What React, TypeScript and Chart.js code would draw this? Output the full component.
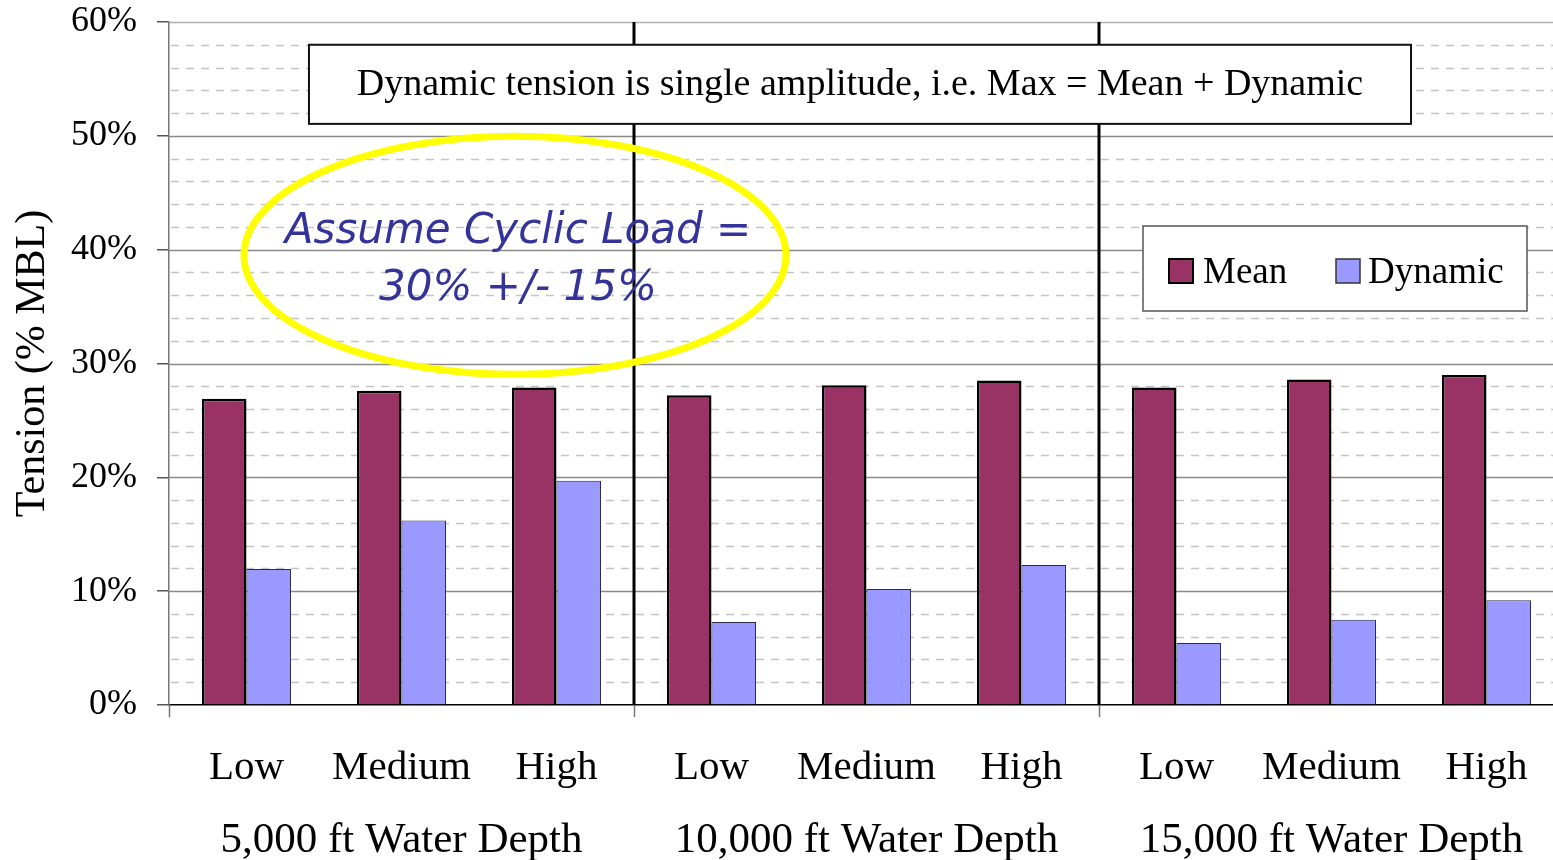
import React, { useEffect, useRef } from "react";
import { Chart, registerables } from "chart.js";

Chart.register(...registerables);

const categories = ["Low", "Medium", "High", "Low", "Medium", "High", "Low", "Medium", "High"];
const groupLabels = ["5,000 ft Water Depth", "10,000 ft Water Depth", "15,000 ft Water Depth"];
const meanValues = [26.9, 27.6, 27.9, 27.2, 28.1, 28.5, 27.9, 28.6, 29.0];
const dynamicValues = [11.95, 16.2, 19.7, 7.3, 10.2, 12.3, 5.45, 7.5, 9.2];
const seriesNames = ["Mean", "Dynamic"];
const yMajorTicks = [0, 10, 20, 30, 40, 50, 60];
const yMinorTicks = [2, 4, 6, 8, 12, 14, 16, 18, 22, 24, 26, 28, 32, 34, 36, 38, 42, 44, 46, 48, 52, 54, 56, 58];
const noteText = "Dynamic tension is single amplitude, i.e. Max = Mean + Dynamic";
const calloutLines = ["Assume Cyclic Load =", "30% +/- 15%"];

const MEAN_COLOR = "#993366";
const DYN_COLOR = "#9999FF";
const SERIF = "'Liberation Serif', 'Times New Roman', serif";

const decorPlugin = {
  id: "decor",
  beforeDatasetsDraw(chart: any) {
    const { ctx, chartArea } = chart;
    const y = chart.scales.y;
    ctx.save();
    ctx.strokeStyle = "#c4c4c4";
    ctx.lineWidth = 1.5;
    ctx.setLineDash([8, 7]);
    for (const v of yMinorTicks) {
      const py = Math.round(y.getPixelForValue(v)) + 0.5;
      ctx.beginPath();
      ctx.moveTo(chartArea.left + 2, py);
      ctx.lineTo(chartArea.right, py);
      ctx.stroke();
    }
    ctx.setLineDash([]);
    for (const v of yMajorTicks) {
      if (v === 0) continue;
      const py = Math.round(y.getPixelForValue(v)) + 0.5;
      ctx.strokeStyle = v === 60 ? "#b0b0b0" : "#8a8a8a";
      ctx.lineWidth = 1.5;
      ctx.beginPath();
      ctx.moveTo(chartArea.left, py);
      ctx.lineTo(chartArea.right, py);
      ctx.stroke();
    }
    ctx.restore();
  },
  afterDatasetsDraw(chart: any) {
    const { ctx, chartArea } = chart;
    const x = chart.scales.x;
    const y = chart.scales.y;
    ctx.save();
    const bounds: number[] = [];
    for (let g = 0; g <= groupLabels.length; g++) {
      const idx = g * 3;
      let px;
      if (idx === 0) px = chartArea.left;
      else if (idx >= categories.length) px = chartArea.right;
      else px = (x.getPixelForValue(idx - 1) + x.getPixelForValue(idx)) / 2;
      bounds.push(px);
    }
    ctx.strokeStyle = "#777";
    ctx.lineWidth = 1.5;
    for (let g = 0; g < groupLabels.length; g++) {
      const px = Math.round(bounds[g]) + 0.5;
      ctx.beginPath();
      ctx.moveTo(px, chartArea.bottom);
      ctx.lineTo(px, chartArea.bottom + 12);
      ctx.stroke();
    }
    ctx.strokeStyle = "#000";
    ctx.lineWidth = 3;
    for (let g = 1; g < groupLabels.length; g++) {
      const px = Math.round(bounds[g]);
      ctx.beginPath();
      ctx.moveTo(px, chartArea.top);
      ctx.lineTo(px, chartArea.bottom);
      ctx.stroke();
    }
    ctx.fillStyle = "#000";
    ctx.font = `43px ${SERIF}`;
    ctx.textAlign = "center";
    ctx.textBaseline = "alphabetic";
    for (let g = 0; g < groupLabels.length; g++) {
      const cx = x.getPixelForValue(g * 3 + 1);
      ctx.fillText(groupLabels[g], cx, chartArea.bottom + 147);
    }

    // note box
    const bx1 = x.getPixelForValue(0.403);
    const bx2 = x.getPixelForValue(7.513);
    const by1 = y.getPixelForValue(58);
    const by2 = y.getPixelForValue(51.05);
    ctx.fillStyle = "#fff";
    ctx.fillRect(bx1, by1, bx2 - bx1, by2 - by1);
    ctx.strokeStyle = "#111";
    ctx.lineWidth = 2;
    ctx.strokeRect(bx1, by1, bx2 - bx1, by2 - by1);
    ctx.fillStyle = "#000";
    ctx.font = `38px ${SERIF}`;
    ctx.textBaseline = "middle";
    ctx.fillText(noteText, (bx1 + bx2) / 2, (by1 + by2) / 2 + 1);

    // legend box
    const lx1 = 1143, ly1 = 226, lx2 = 1527, ly2 = 311;
    ctx.fillStyle = "#fff";
    ctx.fillRect(lx1, ly1, lx2 - lx1, ly2 - ly1);
    ctx.strokeStyle = "#555";
    ctx.lineWidth = 1.5;
    ctx.strokeRect(lx1, ly1, lx2 - lx1, ly2 - ly1);
    const ds = chart.data.datasets;
    const items = [
      { sx: 1169, tx: 1203 },
      { sx: 1336, tx: 1368 },
    ];
    ctx.font = `37px ${SERIF}`;
    ctx.textAlign = "left";
    ctx.textBaseline = "alphabetic";
    items.forEach((it, i) => {
      ctx.fillStyle = ds[i].backgroundColor;
      ctx.fillRect(it.sx, 259, 24, 24);
      ctx.strokeStyle = i === 0 ? "#000" : "#333";
      ctx.lineWidth = i === 0 ? 2 : 1.5;
      ctx.strokeRect(it.sx, 259, 24, 24);
      ctx.fillStyle = "#000";
      ctx.fillText(ds[i].label, it.tx, 283);
    });

    // callout ellipse
    const ecx = x.getPixelForValue(1.732);
    const ecy = y.getPixelForValue(39.5);
    ctx.strokeStyle = "#FFFF00";
    ctx.lineWidth = 7;
    ctx.beginPath();
    ctx.ellipse(ecx, ecy, 271, 119, 0, 0, Math.PI * 2);
    ctx.stroke();
    ctx.fillStyle = "#333399";
    ctx.font = `italic 42px 'DejaVu Sans', sans-serif`;
    ctx.textAlign = "center";
    ctx.textBaseline = "alphabetic";
    ctx.fillText(calloutLines[0], ecx + 3, 243);
    ctx.fillText(calloutLines[1], ecx + 3, 300);
    ctx.restore();
  },
};

export default function App() {
  const ref = useRef<HTMLCanvasElement | null>(null);
  useEffect(() => {
    if (!ref.current) return;
    const chart = new Chart(ref.current, {
      type: "bar",
      data: {
        labels: categories,
        datasets: [
          {
            label: seriesNames[0],
            data: meanValues,
            backgroundColor: MEAN_COLOR,
            borderColor: "#000",
            borderWidth: 2.5,
            categoryPercentage: 0.574,
            barPercentage: 1,
          },
          {
            label: seriesNames[1],
            data: dynamicValues,
            backgroundColor: DYN_COLOR,
            borderColor: "#2a2a50",
            borderWidth: 1,
            categoryPercentage: 0.574,
            barPercentage: 1,
          },
        ],
      },
      options: {
        responsive: false,
        animation: false,
        devicePixelRatio: 1,
        layout: { padding: { top: 22, left: 0, right: 0, bottom: 0 } },
        plugins: {
          legend: { display: false },
          tooltip: { enabled: false },
        },
        scales: {
          x: {
            grid: { display: false, drawTicks: false },
            border: { display: true, color: "#000", width: 1.5 },
            ticks: {
              color: "#000",
              font: { family: SERIF, size: 41 },
              padding: 39,
              maxRotation: 0,
              autoSkip: false,
            },
            afterFit: (s: any) => {
              s.height = 155;
              s.paddingLeft = 0;
              s.paddingRight = 0;
            },
          },
          y: {
            min: 0,
            max: 60,
            grid: {
              drawOnChartArea: false,
              drawTicks: true,
              tickLength: 12,
              tickColor: "#555",
              lineWidth: 1.5,
            },
            border: { display: true, color: "#777", width: 1.5 },
            ticks: {
              stepSize: 10,
              color: "#000",
              padding: 20,
              font: { family: SERIF, size: 36 },
              callback: (v: any) => `${v}%`,
            },
            title: {
              display: true,
              text: "Tension (% MBL)",
              color: "#000",
              font: { family: SERIF, size: 42 },
              padding: { top: 8, bottom: 0 },
            },
            afterFit: (s: any) => {
              s.width = 169;
              s.paddingTop = 0;
              s.paddingBottom = 0;
            },
          },
        },
      },
      plugins: [decorPlugin],
    });
    return () => chart.destroy();
  }, []);
  return (
    <div style={{ position: "fixed", left: 0, top: 0, width: 1553, height: 860, overflow: "hidden", background: "#fff" }}>
      <canvas ref={ref} width={1564} height={860} style={{ display: "block" }} />
    </div>
  );
}
